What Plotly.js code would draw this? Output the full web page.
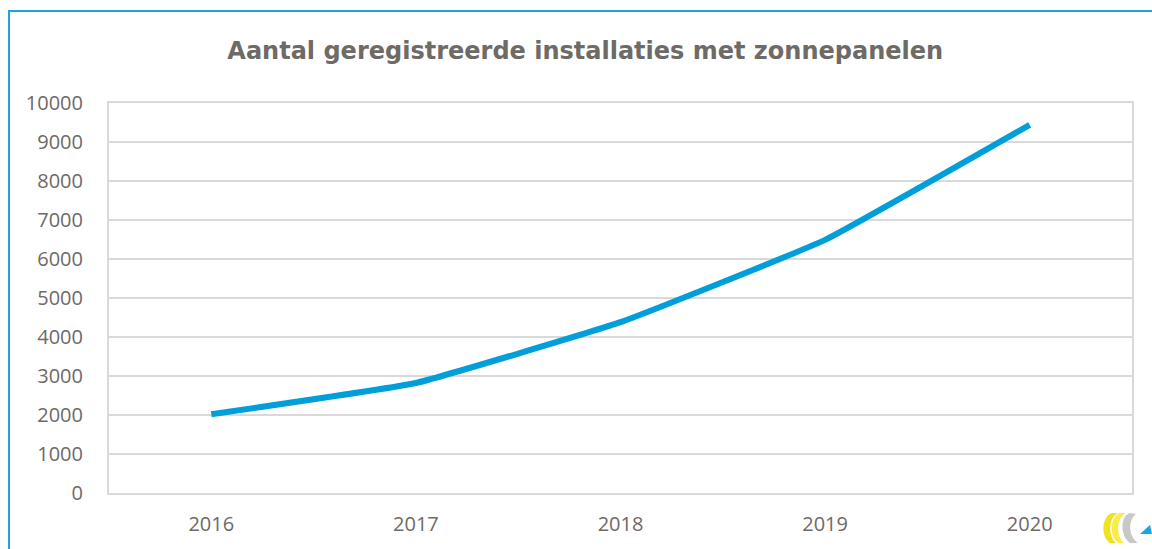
<!DOCTYPE html>
<html><head><meta charset="utf-8">
<script src="https://cdn.plot.ly/plotly-3.0.1.min.js"></script>
<style>
html,body{margin:0;padding:0;background:#fff;}
#wrap{position:relative;width:1152px;height:549px;overflow:hidden;}
#chart{width:1152px;height:549px;}
#frame{position:absolute;left:8px;top:10px;width:1200px;height:600px;border:2px solid #1ea3dc;box-sizing:border-box;pointer-events:none;}
#logo{position:absolute;left:1100px;top:510px;pointer-events:none;}
</style></head>
<body>
<div id="wrap"><div id="chart"></div><div id="frame"></div>
<svg id="logo" width="52" height="36" viewBox="0 0 52 36">
  <path d="M12 3 C2 6 0 26 10 33 L16 33 C8 26 8 8 18 3 Z" fill="#f2e21e"/>
  <path d="M20 3 C10 6 9 26 18 33 L24 33 C16 26 16 8 26 3 Z" fill="#f7ec4a"/>
  <path d="M30 3 C20 6 20 26 30 33 L38 33 C28 26 28 10 36 4 Z" fill="#c8c8c8"/>
  <path d="M40 24 L50 15 L52 24 Z" fill="#1ea3dc"/>
</svg>
</div>
<script>
const years = ['2016','2017','2018','2019','2020'];
const installaties = [2020, 2820, 4380, 6490, 9440];
const yTicks = [0,1000,2000,3000,4000,5000,6000,7000,8000,9000,10000];
const titleText = 'Aantal geregistreerde installaties met zonnepanelen';

const trace = {
  x: years, y: installaties, type: 'scatter', mode: 'lines',
  line: {color: '#009fda', width: 6, shape: 'spline', smoothing: 0.3},
  hoverinfo: 'x+y'
};
const layout = {
  width: 1152, height: 549,
  margin: {l: 109, r: 20, t: 103, b: 56},
  paper_bgcolor: '#fff', plot_bgcolor: '#fff',
  showlegend: false,
  title: {text: titleText, x: 0.508, xanchor: 'center', y: 0.908, yanchor: 'middle',
    font: {family: 'DejaVu Sans', size: 24, color: '#6e6a66', weight: 'bold'}},
  xaxis: {type: 'category', range: [-0.5, 4.5], showgrid: false,
    showline: true, linecolor: '#d9d9d9', linewidth: 2, mirror: true,
    ticks: '', ticklabelstandoff: 12,
    tickfont: {family: 'Open Sans', size: 20, color: '#6e6a66'}},
  yaxis: {range: [0, 10000], tickvals: yTicks, ticktext: yTicks.map(String),
    showgrid: true, gridcolor: '#d9d9d9', gridwidth: 2, zeroline: false,
    showline: true, linecolor: '#d9d9d9', linewidth: 2, mirror: true,
    ticks: '', ticklabelstandoff: 20,
    tickfont: {family: 'Open Sans', size: 20, color: '#6e6a66'}}
};
Plotly.newPlot('chart', [trace], layout, {displayModeBar: false, staticPlot: true});
</script>
</body></html>
